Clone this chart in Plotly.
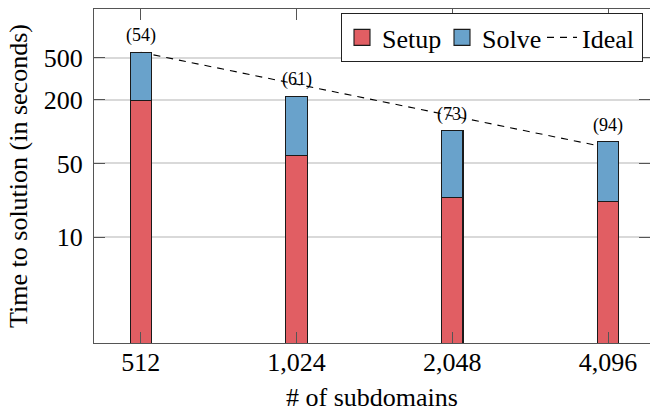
import math
import plotly.graph_objects as go

# ---- data ----
subdomains = ["512", "1,024", "2,048", "4,096"]
setup_time = [196, 59, 24, 22]
solve_time = [368, 157, 78, 58]
ideal_time = [564, 282, 141, 70.5]
iterations = ["(54)", "(61)", "(73)", "(94)"]
y_tick_vals = [10, 50, 200, 500]
y_tick_text = ["10", "50", "200", "500"]

RED = "#E15E63"
BLUE = "#69A2CB"
FONT = "Liberation Serif, Times New Roman, serif"
AXIS_COL = "#555555"
GRID_COL = "#d9d9d9"

W, H = 650, 412
L, R, T, B = 94, 0, 9, 69
y_range = [0, 3.161]
x_range = [-0.30, 3.269]

fig = go.Figure()

# ideal line (base subplot, drawn beneath bars)
fig.add_trace(go.Scatter(
    x=subdomains, y=ideal_time, mode="lines", name="Ideal",
    line=dict(color="black", width=1.1, dash="7px,6px"),
    xaxis="x", yaxis="y", legendrank=3, showlegend=True,
))

# stacked bars (overlay subplot, drawn above the line)
fig.add_trace(go.Bar(
    x=subdomains, y=setup_time, name="Setup", width=0.137,
    marker=dict(color=RED, line=dict(color="#1a1a1a", width=1.1)),
    xaxis="x", yaxis="y2", showlegend=False,
))
fig.add_trace(go.Bar(
    x=subdomains, y=solve_time, name="Solve", width=0.137,
    marker=dict(color=BLUE, line=dict(color="#1a1a1a", width=1.1)),
    xaxis="x", yaxis="y2", showlegend=False,
))

# legend proxies
fig.add_trace(go.Scatter(
    x=[None], y=[None], mode="markers", name="Setup",
    marker=dict(symbol="square", size=18, color=RED, line=dict(color="#1a1a1a", width=1.1)),
    legendrank=1, yaxis="y2",
))
fig.add_trace(go.Scatter(
    x=[None], y=[None], mode="markers", name="Solve",
    marker=dict(symbol="square", size=18, color=BLUE, line=dict(color="#1a1a1a", width=1.1)),
    legendrank=2, yaxis="y2",
))

totals = [s + v for s, v in zip(setup_time, solve_time)]
for i, (tot, lab) in enumerate(zip(totals, iterations)):
    fig.add_annotation(
        x=i, y=math.log10(tot), xref="x", yref="y2", text=lab,
        showarrow=False, yanchor="bottom", yshift=4,
        font=dict(family=FONT, size=18, color="black"),
    )

fig.update_layout(
    width=W, height=H,
    margin=dict(l=L, r=R, t=T, b=B, autoexpand=False),
    paper_bgcolor="white", plot_bgcolor="white",
    barmode="stack",
    font=dict(family=FONT, size=26, color="black"),
    showlegend=True,
    legend=dict(
        orientation="h", x=(643 - L) / (W - L - R), xanchor="right", y=0.988, yanchor="top",
        bgcolor="white", bordercolor="#222222", borderwidth=1,
        font=dict(family=FONT, size=26, color="black"),
        itemwidth=30, tracegroupgap=0, traceorder="normal",
        entrywidth=55, entrywidthmode="pixels",
    ),
    xaxis=dict(
        type="category", range=x_range, categoryorder="array", categoryarray=subdomains,
        automargin=False,
        showline=True, linecolor=AXIS_COL, linewidth=1.2, mirror="ticks",
        ticks="inside", ticklen=11, tickcolor=AXIS_COL, tickwidth=1.2,
        showgrid=False, zeroline=False,
        tickfont=dict(family=FONT, size=26, color="black"),
        ticklabelstandoff=-4,
        title=dict(text="# of subdomains", font=dict(family=FONT, size=26, color="black"), standoff=15),
    ),
    yaxis=dict(
        type="log", range=y_range, automargin=False,
        tickvals=y_tick_vals, ticktext=y_tick_text,
        showline=True, linecolor=AXIS_COL, linewidth=1.2,
        ticks="inside", ticklen=11, tickcolor=AXIS_COL, tickwidth=1.2,
        showgrid=True, gridcolor=GRID_COL, gridwidth=1.5, zeroline=False,
        tickfont=dict(family=FONT, size=26, color="black"),
        ticklabelstandoff=5,
        title=dict(text="Time to solution (in seconds)", font=dict(family=FONT, size=26, color="black"), standoff=8),
    ),
    yaxis2=dict(
        type="log", range=y_range, overlaying="y", side="right", anchor="x",
        automargin=False,
        tickvals=y_tick_vals, showticklabels=False,
        showline=False, ticks="inside", ticklen=11, tickcolor=AXIS_COL, tickwidth=1.2,
        showgrid=False, zeroline=False,
    ),
)

fig.write_html(
    "out.html",
    config={"displayModeBar": False},
    post_script="document.body.style.margin='0px';document.body.style.overflow='hidden';",
)
